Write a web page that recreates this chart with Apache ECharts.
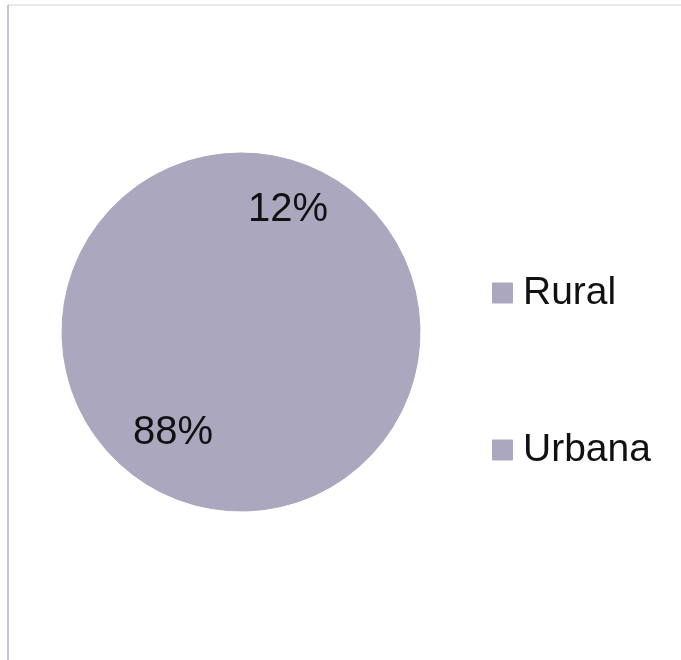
<!DOCTYPE html>
<html>
<head>
<meta charset="utf-8">
<style>
  html, body { margin: 0; padding: 0; background: #ffffff; }
  #chart { width: 681px; height: 660px; }
</style>
<script src="https://cdn.jsdelivr.net/npm/echarts@6/dist/echarts.min.js"></script>
</head>
<body>
<div id="chart"></div>
<script>
// Population share by area
const categories = ['Rural', 'Urbana'];
const shares = [12, 88];

const sliceColor = '#aaa7be';
const font = '"Liberation Sans", Arial, sans-serif';

// per-slice label nudges so the percentages sit where they read best
const labelOffsets = [[13, -36], [-34, 15]];

const chart = echarts.init(document.getElementById('chart'), null, { renderer: 'canvas' });

chart.setOption({
  backgroundColor: '#ffffff',
  animation: false,
  graphic: [
    { type: 'line', shape: { x1: 8, y1: 5, x2: 681, y2: 5 }, style: { stroke: '#d4d4d8', lineWidth: 1 } },
    { type: 'line', shape: { x1: 8, y1: 5, x2: 8, y2: 660 }, style: { stroke: '#8e8ca8', lineWidth: 1 } }
  ],
  legend: {
    orient: 'vertical',
    left: 487,
    top: 268,
    itemWidth: 19,
    itemHeight: 19,
    itemGap: 117,
    icon: 'rect',
    data: categories,
    textStyle: {
      fontFamily: font,
      fontSize: 39,
      color: '#111111',
      lineHeight: 40,
      padding: [0, 0, 0, 6]
    }
  },
  series: [{
    type: 'pie',
    center: [241, 332],
    radius: 179,
    startAngle: 90,
    clockwise: true,
    silent: true,
    itemStyle: { color: sliceColor, borderColor: sliceColor, borderWidth: 1 },
    label: {
      show: true,
      position: 'inside',
      formatter: '{d}%',
      fontFamily: font,
      fontSize: 40,
      color: '#111111'
    },
    labelLine: { show: false },
    data: categories.map((name, i) => ({
      name: name,
      value: shares[i],
      label: { offset: labelOffsets[i] }
    }))
  }]
});
</script>
</body>
</html>
